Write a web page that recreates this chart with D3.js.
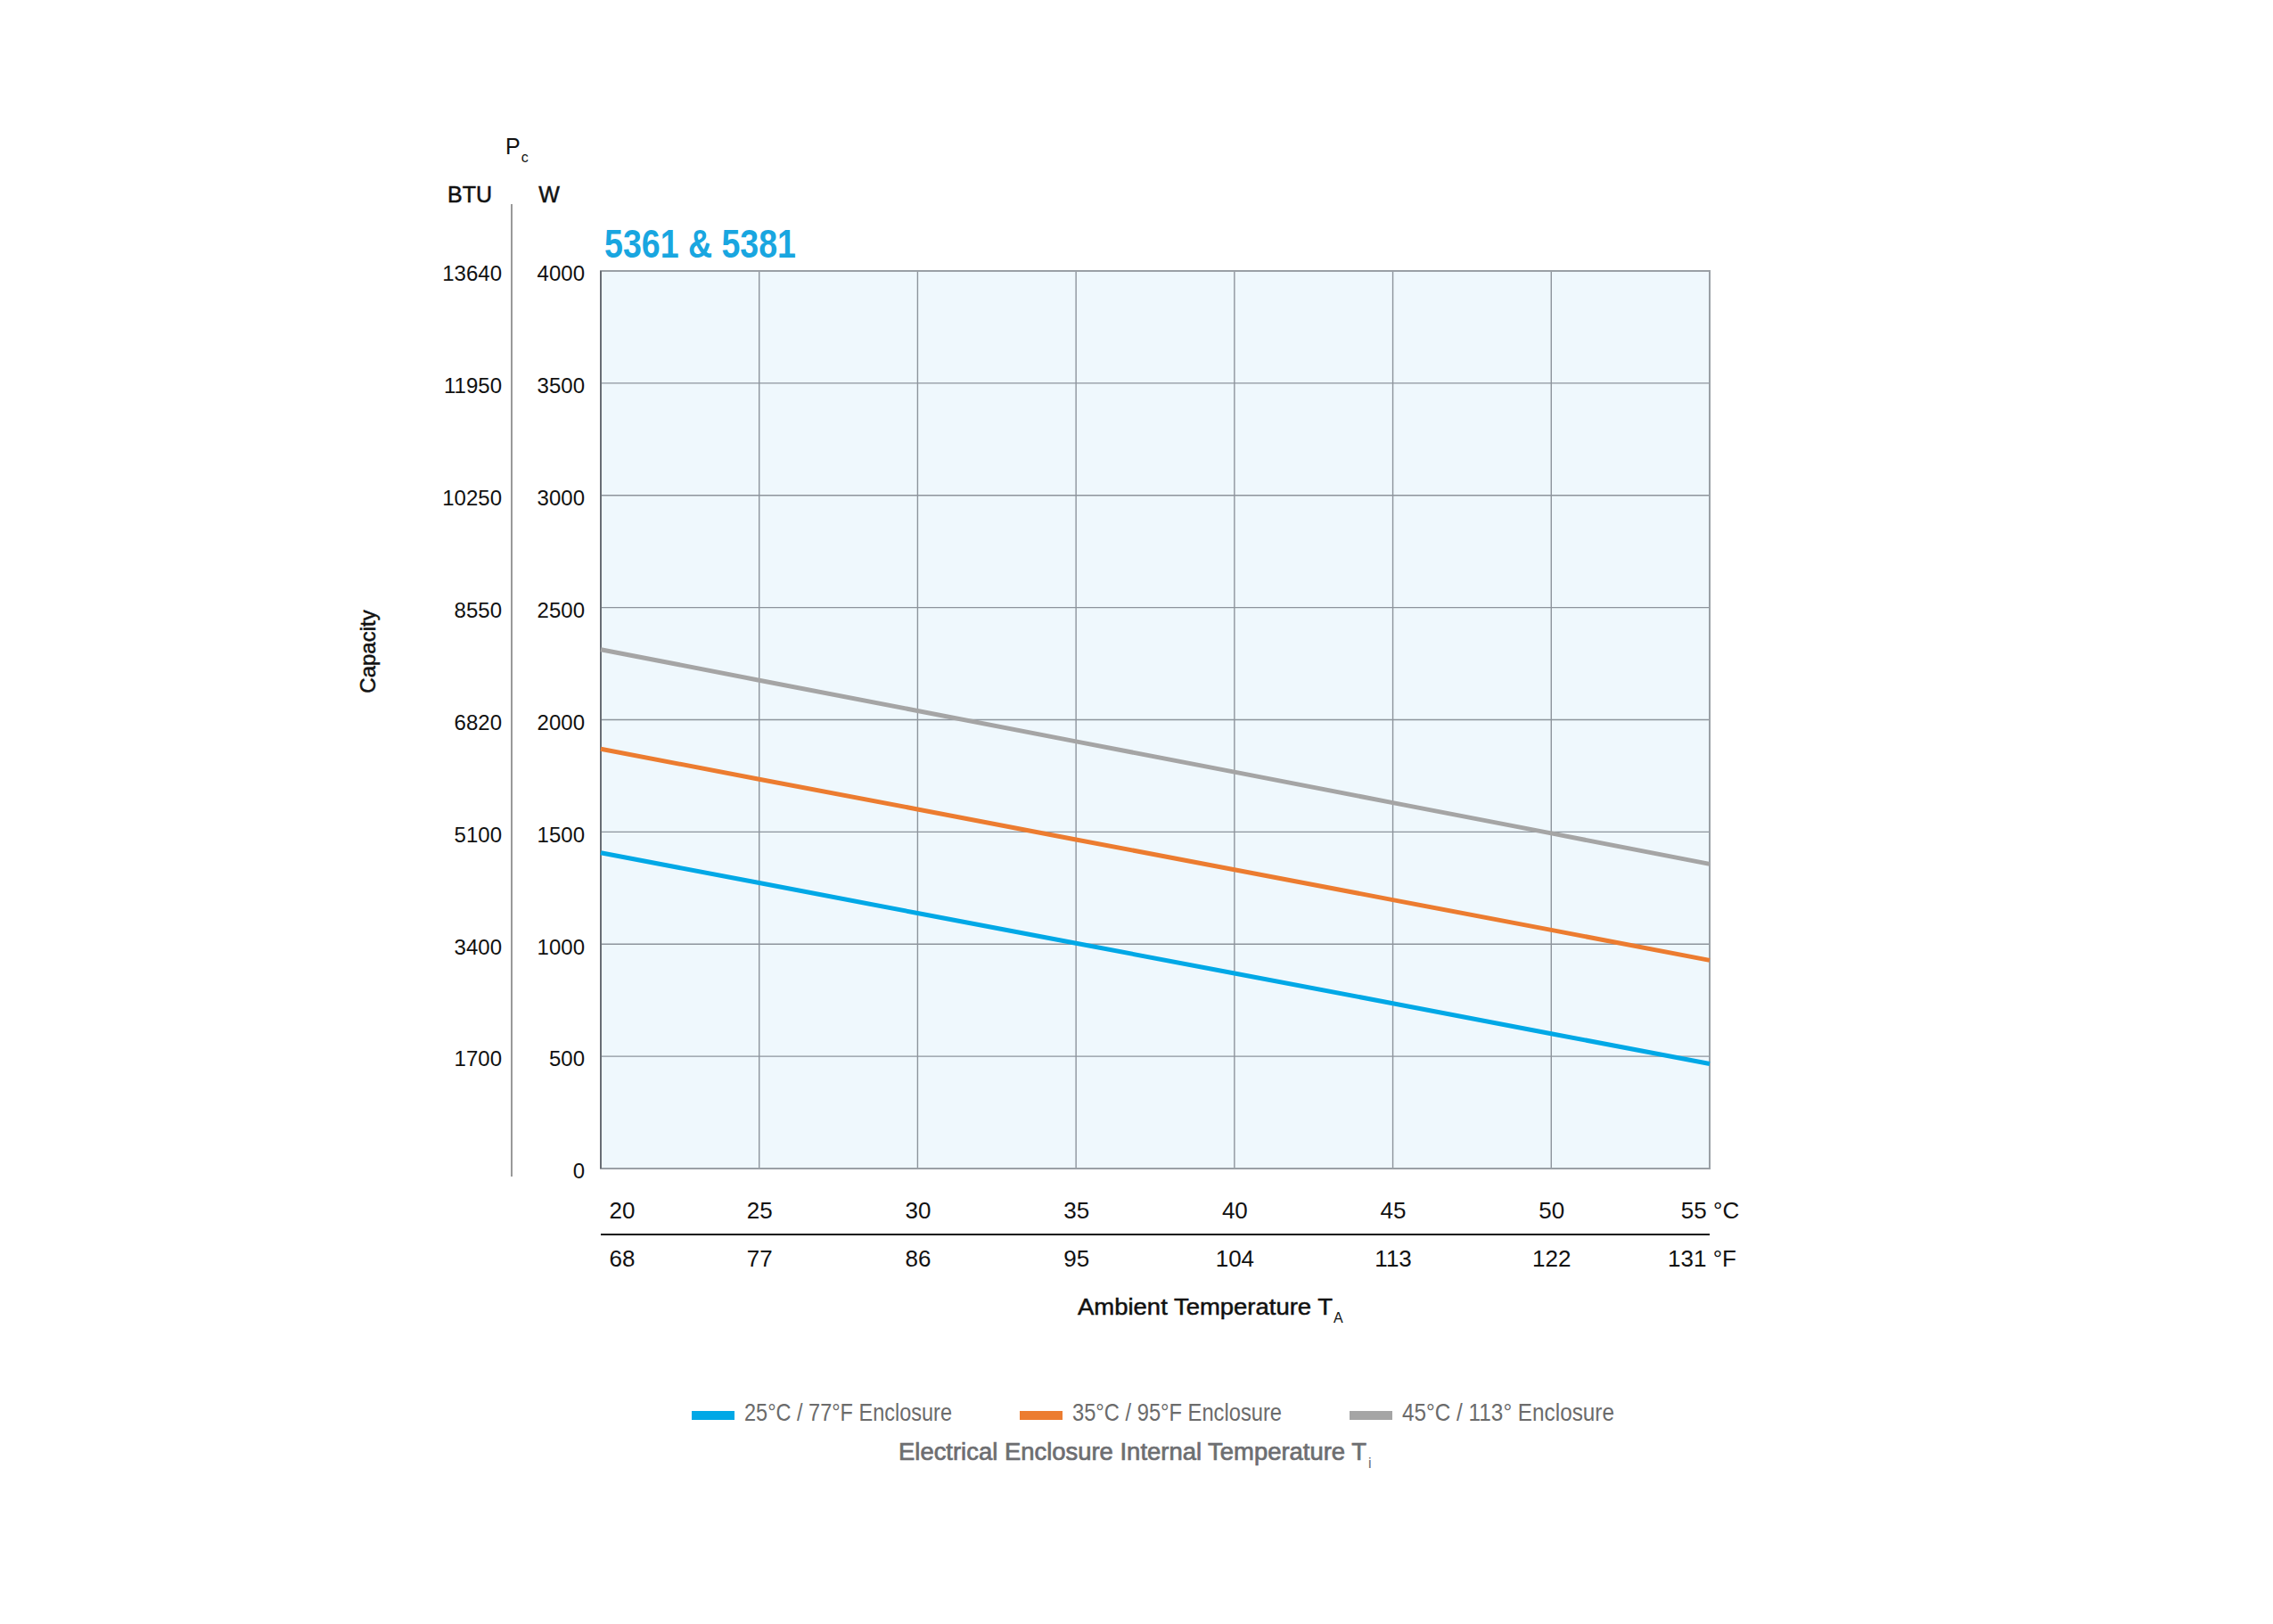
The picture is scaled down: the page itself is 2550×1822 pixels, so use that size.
<!DOCTYPE html>
<html>
<head>
<meta charset="utf-8">
<script src="https://cdn.jsdelivr.net/npm/d3@7"></script>
<style>
  body { margin: 0; background: #fff; }
  svg { display: block; }
  text { font-family: "Liberation Sans", Arial, Helvetica, sans-serif; }
</style>
</head>
<body>
<svg id="chart" width="2550" height="1822"></svg>
<script>
// ---- data ----
const tempC = [20, 25, 30, 35, 40, 45, 50, 55];
const tempF = [68, 77, 86, 95, 104, 113, 122, 131];
const wTicks = [0, 500, 1000, 1500, 2000, 2500, 3000, 3500, 4000];
const btuLabels = ["", "1700", "3400", "5100", "6820", "8550", "10250", "11950", "13640"];
const enclosure25 = [1407, 1273, 1138, 1004, 870, 736, 601, 467];
const enclosure35 = [1870, 1735, 1601, 1466, 1332, 1197, 1063, 928];
const enclosure45 = [2313, 2176, 2040, 1903, 1767, 1630, 1494, 1357];
const seriesNames = ["25°C / 77°F Enclosure", "35°C / 95°F Enclosure", "45°C / 113° Enclosure"];
const seriesColors = ["#00a8e6", "#ec7c30", "#a5a5a5"];
const title = "5361 & 5381";

const series = [enclosure25, enclosure35, enclosure45];

// ---- layout ----
const L = 674, R = 1918, T = 304, B = 1311;
const svg = d3.select("#chart");
const x = d3.scaleLinear().domain([20, 55]).range([L, R]);
const y = d3.scaleLinear().domain([0, 4000]).range([B, T]);

// plot background
svg.append("rect").attr("x", L).attr("y", T).attr("width", R - L).attr("height", B - T)
  .attr("fill", "#eff8fd");

// grid
const grid = svg.append("g");
grid.selectAll("line.h").data(wTicks).join("line")
  .attr("x1", L).attr("x2", R).attr("y1", d => y(d)).attr("y2", d => y(d))
  .attr("stroke", "#8d949c").attr("stroke-width", 1.4);
grid.selectAll("line.v").data(tempC).join("line")
  .attr("x1", d => x(d)).attr("x2", d => x(d)).attr("y1", T).attr("y2", B)
  .attr("stroke", "#8d949c").attr("stroke-width", 1.4);
// border
svg.append("rect").attr("x", L).attr("y", T).attr("width", R - L).attr("height", B - T)
  .attr("fill", "none").attr("stroke", "#9aa0a6").attr("stroke-width", 2);
svg.append("line").attr("x1", L).attr("x2", L).attr("y1", T).attr("y2", B)
  .attr("stroke", "#5c6168").attr("stroke-width", 1.6);

// series lines
const line = d3.line().x((d, i) => x(tempC[i])).y(d => y(d));
svg.append("g").selectAll("path").data(series).join("path")
  .attr("d", line).attr("fill", "none")
  .attr("stroke", (d, i) => seriesColors[i]).attr("stroke-width", 5);

// W axis labels
const wAxis = d3.axisLeft(y).tickValues(wTicks).tickSize(0).tickPadding(18)
  .tickFormat(d3.format("d"));
const wg = svg.append("g").attr("transform", `translate(${L},0)`).call(wAxis);
wg.select(".domain").remove();
wg.selectAll("text").attr("font-size", 24).attr("fill", "#111").attr("dy", "0.45em")
  .style("font-family", '"Liberation Sans", Arial, sans-serif');

// BTU axis
const btuAxis = d3.axisLeft(y).tickValues(wTicks).tickSize(0).tickPadding(11)
  .tickFormat((d, i) => btuLabels[i]);
const bg = svg.append("g").attr("transform", `translate(574,0)`).call(btuAxis);
bg.select(".domain").remove();
bg.selectAll("text").attr("font-size", 24).attr("fill", "#111").attr("dy", "0.45em")
  .style("font-family", '"Liberation Sans", Arial, sans-serif');
svg.append("line").attr("x1", 574).attr("x2", 574).attr("y1", 229).attr("y2", 1320)
  .attr("stroke", "#777").attr("stroke-width", 1.5);

// unit headers
const medium = sel => sel.attr("stroke", "#111").attr("stroke-width", 0.5);
svg.append("text").attr("x", 527).attr("y", 227).attr("text-anchor", "middle")
  .attr("font-size", 25).attr("fill", "#111").text("BTU").call(medium);
svg.append("text").attr("x", 616).attr("y", 227).attr("text-anchor", "middle")
  .attr("font-size", 25).attr("fill", "#111").text("W").call(medium);
const pc = svg.append("text").attr("x", 567).attr("y", 173).attr("font-size", 25).attr("fill", "#111");
pc.append("tspan").text("P");
pc.append("tspan").attr("font-size", 16).attr("dy", 9).attr("dx", 1).text("c");

// Capacity label
svg.append("text").attr("transform", "translate(421,731) rotate(-90)").attr("text-anchor", "middle")
  .attr("font-size", 24).attr("fill", "#111").text("Capacity").call(medium);

// title
svg.append("text").attr("x", 678).attr("y", 289).attr("font-size", 44).attr("font-weight", "bold")
  .attr("fill", "#19a6e0").attr("textLength", 215).attr("lengthAdjust", "spacingAndGlyphs")
  .text(title);

// x axis °C
const cLabels = tempC.map((d, i) => i === tempC.length - 1 ? d + " °C" : String(d));
const fLabels = tempF.map((d, i) => i === tempF.length - 1 ? d + " °F" : String(d));
const cAxis = d3.axisBottom(x).tickValues(tempC).tickSize(0).tickPadding(0)
  .tickFormat((d, i) => cLabels[i]);
const cg = svg.append("g").attr("transform", `translate(0,1349)`).call(cAxis);
cg.select(".domain").remove();
cg.selectAll("text").attr("font-size", 26).attr("fill", "#111").attr("dy", "0.71em")
  .style("font-family", '"Liberation Sans", Arial, sans-serif');
cg.selectAll("text").filter((d, i) => i === 0).attr("text-anchor", "start").attr("dx", 9);

svg.append("line").attr("x1", L).attr("x2", R).attr("y1", 1385).attr("y2", 1385)
  .attr("stroke", "#111").attr("stroke-width", 2.2);

const fAxis = d3.axisBottom(x).tickValues(tempC).tickSize(0).tickPadding(0)
  .tickFormat((d, i) => fLabels[i]);
const fg = svg.append("g").attr("transform", `translate(0,1403)`).call(fAxis);
fg.select(".domain").remove();
fg.selectAll("text").attr("font-size", 26).attr("fill", "#111").attr("dy", "0.71em")
  .style("font-family", '"Liberation Sans", Arial, sans-serif');
fg.selectAll("text").filter((d, i) => i === 0).attr("text-anchor", "start").attr("dx", 9);
fg.selectAll("text").filter((d, i) => i === tempF.length - 1).attr("dx", -9);

// Ambient label
svg.append("text").attr("x", 1209).attr("y", 1475).attr("font-size", 26).attr("fill", "#111")
  .attr("textLength", 286).attr("lengthAdjust", "spacingAndGlyphs")
  .text("Ambient Temperature T").call(medium);
svg.append("text").attr("x", 1209 + 286 + 1).attr("y", 1484).attr("font-size", 16).attr("fill", "#111").text("A");

// legend
const legX = [776, 1144, 1514];
const legW = [233, 235, 238];
const lg = svg.append("g");
lg.selectAll("rect").data(seriesNames).join("rect")
  .attr("x", (d, i) => legX[i]).attr("y", 1583).attr("width", 48).attr("height", 10)
  .attr("fill", (d, i) => seriesColors[i]);
lg.selectAll("text").data(seriesNames).join("text")
  .attr("x", (d, i) => legX[i] + 59).attr("y", 1594)
  .attr("font-size", 28).attr("fill", "#6b6b6b")
  .attr("textLength", (d, i) => legW[i]).attr("lengthAdjust", "spacingAndGlyphs")
  .text(d => d);

svg.append("text").attr("x", 1008).attr("y", 1638).attr("font-size", 27).attr("fill", "#6d6e71")
  .attr("textLength", 525).attr("lengthAdjust", "spacingAndGlyphs")
  .attr("stroke", "#6d6e71").attr("stroke-width", 0.7)
  .text("Electrical Enclosure Internal Temperature T");
svg.append("text").attr("x", 1535).attr("y", 1647).attr("font-size", 16).attr("fill", "#6d6e71").text("i");
</script>
</body>
</html>
